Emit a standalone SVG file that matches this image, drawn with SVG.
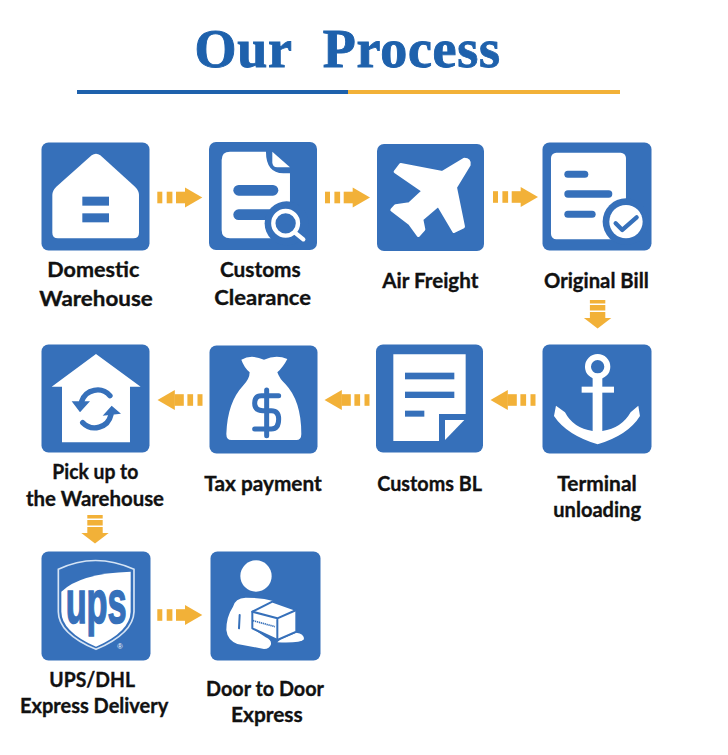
<svg xmlns="http://www.w3.org/2000/svg" width="728" height="755" viewBox="0 0 728 755">
<style>
.b{fill:#3670BA}.w{fill:#fff}.o{fill:#F2B138}
.l{font-family:"Lato","Liberation Sans",sans-serif;font-weight:700;font-size:21px;fill:#111;stroke:#111;stroke-width:.35px}
.t{font-family:"Liberation Serif",serif;font-weight:700;font-size:54px;fill:#1E61AC;stroke:#1E61AC;stroke-width:.9px;letter-spacing:.7px;word-spacing:17px}
.s{fill:none;stroke:#3670BA;stroke-linecap:round;stroke-linejoin:round}
</style>
<defs>
<g id="arrow" class="o"><rect x="0" y="-5.8" width="5" height="11.6"/><rect x="9.4" y="-5.8" width="5.7" height="11.6"/><rect x="18.7" y="-5.8" width="9.3" height="11.6"/><path d="M27.7-10L45 0L27.7 10Z"/></g>
<g id="down" class="o"><rect x="-7.7" y="0" width="15.4" height="3.5"/><rect x="-7.7" y="5" width="15.4" height="5.5"/><rect x="-7.7" y="12" width="15.4" height="6.5"/><path d="M-13.7 18H13.7L0 28.5Z"/></g>
</defs>
<rect width="728" height="755" fill="#fff"/>
<g id="title">
<text class="t" x="194.5" y="67">Our Process</text>
<rect x="77" y="90" width="271" height="4" fill="#1E61AC"/><rect x="348" y="90" width="272" height="4" fill="#F2B138"/>
</g>
<g id="connectors">
<use href="#arrow" transform="translate(157.3 197.5)"/>
<use href="#arrow" transform="translate(325 197.5)"/>
<use href="#arrow" transform="translate(493 197)"/>
<use href="#down" transform="translate(597.6 300)"/>
<use href="#arrow" transform="translate(535.5 400) scale(-1 1)"/>
<use href="#arrow" transform="translate(369.5 400) scale(-1 1)"/>
<use href="#arrow" transform="translate(202.5 400) scale(-1 1)"/>
<use href="#down" transform="translate(95 515)"/>
<use href="#arrow" transform="translate(157.3 615)"/>
</g>
<g id="node-domestic">
<rect class="b" x="41.5" y="142.5" width="108" height="108" rx="7"/>
<g transform="translate(20 130) scale(.3333)"><path class="w" d="M215 76Q228 66 241 76L345 170Q357 182 357 195V308Q357 325 340 325H114Q97 325 97 308V195Q97 182 109 170Z"/><rect class="b" x="187" y="200" width="80" height="27"/><rect class="b" x="187" y="250" width="80" height="27"/></g>
<text class="l" x="47.3" y="277" textLength="92" lengthAdjust="spacingAndGlyphs">Domestic</text>
<text class="l" x="39.3" y="306" textLength="113.4" lengthAdjust="spacingAndGlyphs">Warehouse</text>
</g>
<g id="node-clearance">
<rect class="b" x="209" y="142" width="108" height="108" rx="7"/>
<g transform="translate(20 130) scale(.3333)"><path class="w" d="M630 65H738Q738 128 790 130H810V325H630Q605 325 605 300V90Q605 65 630 65Z"/><path class="w" d="M757 65L810 112H772Q757 112 757 97Z"/><rect class="b" x="640" y="165" width="135" height="32" rx="16"/><rect class="b" x="640" y="238" width="125" height="32" rx="16"/><circle class="b" cx="800" cy="280" r="66"/><circle cx="797" cy="280" r="37" fill="none" stroke="#fff" stroke-width="13"/><path d="M825 308L850 328" stroke="#fff" stroke-width="13" stroke-linecap="round"/></g>
<text class="l" x="220" y="277" textLength="80.7" lengthAdjust="spacingAndGlyphs">Customs</text>
<text class="l" x="214.3" y="304.5" textLength="96.7" lengthAdjust="spacingAndGlyphs">Clearance</text>
</g>
<g id="node-air">
<rect class="b" x="377" y="144" width="107" height="107" rx="7"/>
<g transform="translate(370 130) scale(.3333)"><path class="w" stroke="#fff" stroke-width="10" stroke-linejoin="round" d="M283 88Q300 88 297 105L256 172L280 290L252 304L205 225L155 268L161 298L145 316L120 281L66 240L77 228L118 222L160 183L76 125L92 104L217 128Z"/></g>
<text class="l" x="382.3" y="288" textLength="96" lengthAdjust="spacingAndGlyphs">Air Freight</text>
</g>
<g id="node-bill">
<rect class="b" x="542.5" y="142.5" width="109" height="108" rx="7"/>
<g transform="translate(370 130) scale(.3333)"><rect class="w" x="543" y="68" width="225" height="260" rx="16"/><rect class="b" x="583" y="122" width="72" height="21" rx="10.5"/><rect class="b" x="583" y="181" width="144" height="22" rx="11"/><rect class="b" x="583" y="242" width="94" height="21" rx="10.5"/><circle class="b" cx="768" cy="275" r="70"/><circle class="w" cx="768" cy="275" r="50"/><path class="s" stroke-width="13" d="M737 280L757 300L800 262"/></g>
<text class="l" x="544" y="288" textLength="104.7" lengthAdjust="spacingAndGlyphs">Original Bill</text>
</g>
<g id="node-terminal">
<rect class="b" x="542.5" y="344.5" width="109" height="109" rx="7"/>
<g transform="translate(370 335) scale(.3333)"><circle cx="683" cy="95" r="29" fill="none" stroke="#fff" stroke-width="18"/><rect class="w" x="635" y="155" width="97" height="18"/><path class="w" d="M668 125H697V288Q755 280 782 232L805 212L810 243Q775 300 683 328Q590 300 552 243L558 212L585 232Q610 280 668 288Z"/></g>
<text class="l" x="557.3" y="490.5" textLength="79.4" lengthAdjust="spacingAndGlyphs">Terminal</text>
<text class="l" x="553.3" y="516.5" textLength="87.7" lengthAdjust="spacingAndGlyphs">unloading</text>
</g>
<g id="node-bl">
<rect class="b" x="376" y="344.5" width="107" height="108" rx="7"/>
<g transform="translate(370 335) scale(.3333)"><path class="w" d="M70 58H287V237H207V318H70Z"/><path class="w" d="M225 255H283L225 315Z"/><rect class="b" x="105" y="113" width="148" height="20"/><rect class="b" x="105" y="170" width="148" height="19"/><rect class="b" x="105" y="227" width="58" height="18"/></g>
<text class="l" x="377.3" y="490.5" textLength="104.7" lengthAdjust="spacingAndGlyphs">Customs BL</text>
</g>
<g id="node-tax">
<rect class="b" x="209.5" y="345.5" width="108" height="108" rx="7"/>
<g transform="translate(208 344) scale(.3333)"><path class="w" d="M100 47Q130 30 168 47Q205 30 238 45Q225 70 208 85Q215 105 232 120Q280 170 280 270Q280 288 265 288L70 288Q55 288 55 270Q58 175 105 125Q125 105 125 85Q108 70 100 47Z"/><path class="s" stroke-width="15" d="M212 155H160Q140 155 140 178Q140 200 165 200H190Q212 200 212 225Q212 255 190 255H140M176 138V275"/></g>
<text class="l" x="204.3" y="490.5" textLength="117.4" lengthAdjust="spacingAndGlyphs">Tax payment</text>
</g>
<g id="node-pickup">
<rect class="b" x="41.5" y="344.5" width="108" height="108" rx="7"/>
<g transform="translate(40 344) scale(.3333)"><path class="w" d="M168 30L302 128H270V295H66V128H35Z"/><path class="s" stroke-width="16" stroke-linecap="butt" d="M210 155A50 50 0 0 0 125 172M128 236A50 50 0 0 0 213 212"/><path class="b" d="M95 172H150L120 205ZM188 215L243 209L215 185Z"/></g>
<text class="l" x="52.3" y="479" textLength="86" lengthAdjust="spacingAndGlyphs">Pick up to</text>
<text class="l" x="26" y="506" textLength="138" lengthAdjust="spacingAndGlyphs">the Warehouse</text>
</g>
<g id="node-ups">
<rect class="b" x="41.5" y="551.5" width="109" height="109" rx="7"/>
<g transform="translate(40 550) scale(.3333)"><path d="M55 58Q165 5 282 58V185Q280 250 168 298Q55 250 55 185Z" fill="none" stroke="#D5E4F5" stroke-width="5"/><path class="w" d="M64 125Q120 70 272 65V185Q270 245 168 290Q65 245 64 185Z"/><text x="77" y="218" textLength="183" lengthAdjust="spacingAndGlyphs" font-family="Liberation Sans,sans-serif" font-weight="700" font-size="186" fill="#3670BA" stroke="#3670BA" stroke-width="5">ups</text><text x="240" y="298" text-anchor="middle" font-family="Liberation Sans,sans-serif" font-size="22" fill="#fff">®</text></g>
<text class="l" x="49.3" y="687" textLength="85.7" lengthAdjust="spacingAndGlyphs">UPS/DHL</text>
<text class="l" x="20" y="713" textLength="148.3" lengthAdjust="spacingAndGlyphs">Express Delivery</text>
</g>
<g id="node-door">
<rect class="b" x="210.5" y="551.5" width="110" height="109" rx="7"/>
<g transform="translate(209 550) scale(.3333)"><circle class="w" cx="141" cy="78" r="47"/><path class="w" d="M72 170Q78 145 110 143Q160 143 192 153L130 185V235L170 262Q188 270 186 283Q182 297 165 297L85 282Q55 270 52 240Q52 200 72 170Z"/><path class="w" d="M215 268L262 248Q285 250 285 268Q275 280 205 277Z"/><path class="w" stroke="#3670BA" stroke-width="6" stroke-linejoin="round" d="M130 185L190 155L262 180V245L205 270L130 235Z"/><path class="s" stroke-width="6" d="M130 185L205 205L262 180M205 205V270M92 195L90 235"/><path d="M132 212L198 230" stroke="#3670BA" stroke-width="5" stroke-dasharray="4 2"/></g>
<text class="l" x="206" y="695.5" textLength="118" lengthAdjust="spacingAndGlyphs">Door to Door</text>
<text class="l" x="231" y="721.5" textLength="71.7" lengthAdjust="spacingAndGlyphs">Express</text>
</g>
</svg>
